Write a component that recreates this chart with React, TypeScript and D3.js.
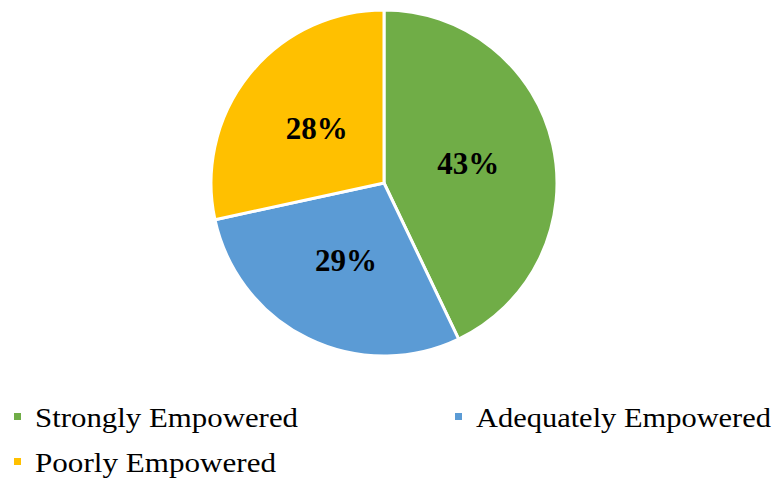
import React from "react";
import * as d3 from "d3";

const categories = ["Strongly Empowered", "Adequately Empowered", "Poorly Empowered"];
const values = [42.9, 28.7, 28.4];
const colors = ["#70AD47", "#5B9BD5", "#FFC000"];

export default function App() {
  const W = 777, H = 480;
  const cx = 384, cy = 183, r = 173;
  const pie = d3.pie<number>().sort(null).value((d) => d);
  const arcs = pie(values);
  const arc = d3.arc<d3.PieArcDatum<number>>().innerRadius(0).outerRadius(r);
  const total = d3.sum(values);
  const legendPos = [
    { x: 14, y: 417, w: 263 },
    { x: 455, y: 417, w: 295 },
    { x: 14, y: 462, w: 241 },
  ];
  return (
    <svg width={W} height={H} style={{ position: "absolute", left: 0, top: 0, background: "#fff" }}
      fontFamily="'Liberation Serif', serif">
      <g transform={`translate(${cx},${cy})`}>
        {arcs.map((a, i) => (
          <path key={i} d={arc(a) || ""} fill={colors[i]} stroke="#fff" strokeWidth={3} strokeLinejoin="round" />
        ))}
        {arcs.map((a, i) => {
          const [x, y] = arc.centroid(a);
          return (
            <text key={"l" + i} x={x} y={y} textAnchor="middle" dominantBaseline="central"
              fontSize={31} fontWeight="bold" fill="#000">
              {Math.round((values[i] / total) * 100)}%
            </text>
          );
        })}
      </g>
      {categories.map((c, i) => (
        <g key={"lg" + i}>
          <rect x={legendPos[i].x} y={legendPos[i].y - 4} width={7} height={7} fill={colors[i]} />
          <text x={legendPos[i].x + 21} y={legendPos[i].y} dominantBaseline="central" fontSize={28} fill="#000"
            textLength={legendPos[i].w} lengthAdjust="spacingAndGlyphs">
            {c}
          </text>
        </g>
      ))}
    </svg>
  );
}
